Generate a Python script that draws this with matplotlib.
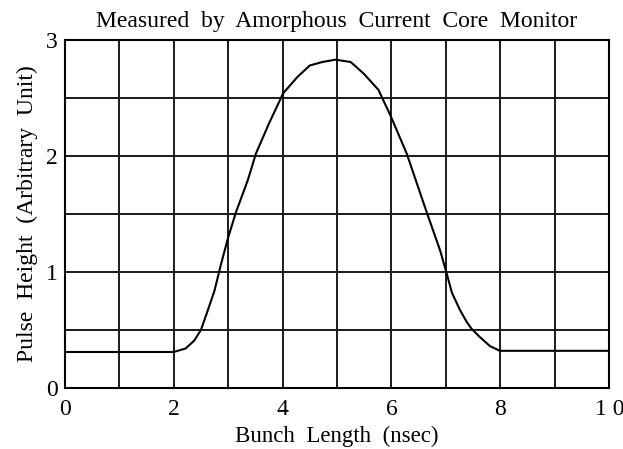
import matplotlib.pyplot as plt
import numpy as np

plt.rcParams['font.family'] = ['Liberation Serif', 'DejaVu Serif']

# bunch length (nsec) and pulse height
t_ns = [0.0, 2.0, 2.22, 2.38, 2.50, 2.62, 2.75, 2.86, 2.99, 3.14, 3.36, 3.51,
        3.75, 4.01, 4.27, 4.50, 4.73, 4.97, 5.25, 5.49, 5.76, 5.98, 6.28,
        6.65, 6.89, 7.0, 7.11, 7.26, 7.38, 7.47, 7.62, 7.81, 7.99, 10.0]
height = [0.31, 0.31, 0.34, 0.41, 0.50, 0.66, 0.84, 1.05, 1.28, 1.51, 1.79, 2.02,
          2.28, 2.54, 2.68, 2.78, 2.81, 2.83, 2.81, 2.71, 2.57, 2.35, 2.02,
          1.51, 1.19, 1.01, 0.82, 0.67, 0.57, 0.51, 0.44, 0.36, 0.32, 0.32]

xticks = [0, 2, 4, 6, 8, 10]
xtick_labels = ['0', '2', '4', '6', '8', '1 0']
yticks = [0, 1, 2, 3]

fig = plt.figure(figsize=(6.23, 4.49), dpi=100)
ax = fig.add_axes([0.104, 0.136, 0.874, 0.775])

for x in range(1, 10):
    ax.axvline(x, color='#1a1a1a', lw=1.4, zorder=1)
for y in np.arange(0.5, 3.0, 0.5):
    ax.axhline(y, color='#1a1a1a', lw=1.4, zorder=1)

ax.plot(t_ns, height, color='black', lw=1.5, zorder=2)

ax.set_xlim(0, 10)
ax.set_ylim(0, 3)
ax.set_xticks(xticks)
ax.set_xticklabels(xtick_labels)
ax.set_yticks(yticks)
ax.tick_params(length=0, labelsize=17)
ax.tick_params(axis='x', pad=8)
ax.tick_params(axis='y', pad=5)
for s in ax.spines.values():
    s.set_linewidth(1.5)

ax.set_xlabel('Bunch  Length  (nsec)', fontsize=16.5, labelpad=4)
ax.set_ylabel('Pulse  Height  (Arbitrary  Unit)', fontsize=17, labelpad=6)
ax.set_title('Measured  by  Amorphous  Current  Core  Monitor', fontsize=17, pad=9)

fig.savefig('out.png', dpi=100)
